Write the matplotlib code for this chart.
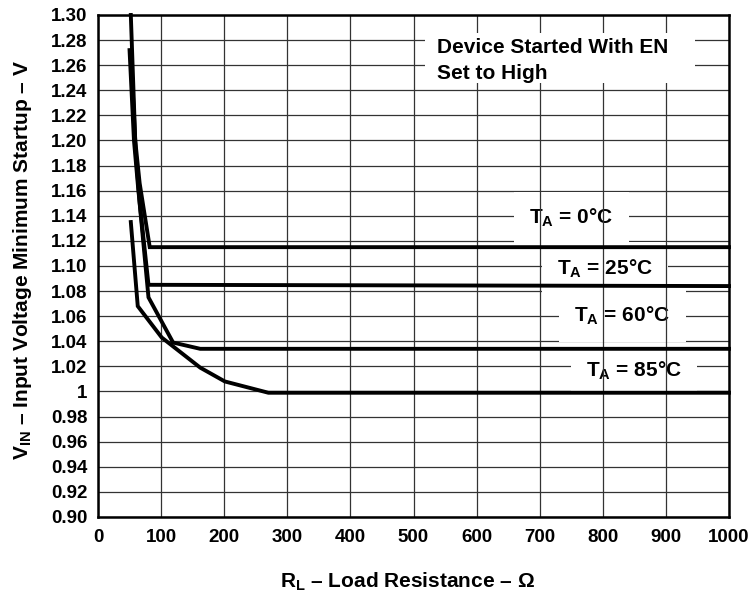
import matplotlib
matplotlib.use("Agg")
import matplotlib.pyplot as plt
from matplotlib.patches import Rectangle

plt.rcParams['font.family'] = ['Liberation Sans', 'DejaVu Sans']
plt.rcParams['font.weight'] = 'bold'
plt.rcParams['mathtext.fontset'] = 'custom'
plt.rcParams['mathtext.rm'] = 'Liberation Sans:bold'
plt.rcParams['mathtext.bf'] = 'Liberation Sans:bold'
plt.rcParams['mathtext.it'] = 'Liberation Sans:bold'

# Data
r_0c = [52, 59, 66, 82, 1000]
v_0c = [1.300, 1.200, 1.166, 1.115, 1.115]
r_25c = [50, 57, 64, 80, 1000]
v_25c = [1.272, 1.200, 1.160, 1.085, 1.084]
r_60c = [54, 60, 66, 80, 119, 162, 1000]
v_60c = [1.250, 1.190, 1.150, 1.075, 1.039, 1.034, 1.034]
r_85c = [52, 63, 101, 162, 201, 270, 1000]
v_85c = [1.135, 1.068, 1.043, 1.019, 1.008, 0.999, 0.999]

x_ticks = list(range(0, 1001, 100))
y_ticks = [round(0.90 + 0.02 * i, 2) for i in range(21)]
y_tick_labels = ['1' if abs(v - 1.0) < 1e-9 else f'{v:.2f}' for v in y_ticks]

labels = [r'T$_\mathbf{A}$ = 0°C', r'T$_\mathbf{A}$ = 25°C',
          r'T$_\mathbf{A}$ = 60°C', r'T$_\mathbf{A}$ = 85°C']
label_pos = [(750, 1.1333), (803, 1.0933), (831, 1.0555), (849, 1.0115)]

fig = plt.figure(figsize=(7.55, 5.92), dpi=100)
ax = fig.add_axes([0.1298, 0.1267, 0.8358, 0.848])
ax.set_xlim(0, 1000)
ax.set_ylim(0.90, 1.30)

# grid: horizontal below labels, vertical above labels
for y in y_ticks:
    ax.axhline(y, color='#333333', lw=0.9, zorder=1)
for x in x_ticks:
    ax.axvline(x, color='#333333', lw=0.9, zorder=3)

for r, v in [(r_0c, v_0c), (r_25c, v_25c), (r_60c, v_60c), (r_85c, v_85c)]:
    ax.plot(r, v, color='black', lw=2.8, zorder=4, solid_joinstyle='miter', clip_on=False)

for t, (x, y) in zip(labels, label_pos):
    ax.text(x, y, t, ha='center', va='baseline', fontsize=15, fontweight='bold',
            zorder=2, bbox=dict(facecolor='white', edgecolor='none', pad=11))

ax.add_patch(Rectangle((518, 1.2456), 428, 0.040, facecolor='white',
                       edgecolor='none', zorder=5))
ax.text(537, 1.2698, 'Device Started With EN', ha='left', va='baseline',
        fontsize=15, fontweight='bold', zorder=6)
ax.text(537, 1.2493, 'Set to High', ha='left', va='baseline',
        fontsize=15, fontweight='bold', zorder=6)

ax.set_xticks(x_ticks)
ax.set_xticklabels([str(x) for x in x_ticks], fontsize=13.5, fontweight='bold')
ax.set_yticks(y_ticks)
ax.set_yticklabels(y_tick_labels, fontsize=13.5, fontweight='bold')
ax.tick_params(length=0)
ax.tick_params(axis='y', pad=7.5)
ax.tick_params(axis='x', pad=9)

for s in ax.spines.values():
    s.set_linewidth(1.8)
    s.set_zorder(7)

fig.text(0.030, 0.561, r'V$_\mathbf{IN}$ – Input Voltage Minimum Startup – V',
         rotation=90, ha='center', va='center', fontsize=15, fontweight='bold')
fig.text(0.540, 0.0068, r'R$_\mathbf{L}$ – Load Resistance – Ω',
         ha='center', va='baseline', fontsize=15, fontweight='bold')

fig.savefig('out.png', dpi=100)
